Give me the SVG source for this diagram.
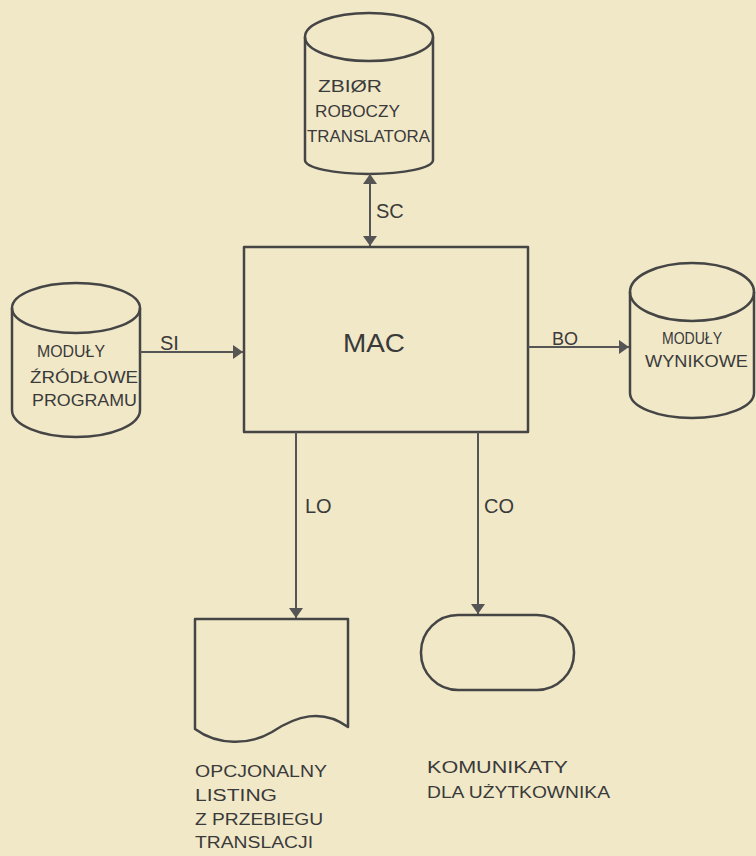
<svg xmlns="http://www.w3.org/2000/svg" width="756" height="856" viewBox="0 0 756 856">
<defs>
<style>
.s{fill:none;stroke:#454545;stroke-width:2.5;stroke-linejoin:round}
.c{fill:none;stroke:#555;stroke-width:2}
.t{font-family:"Liberation Sans","DejaVu Sans",sans-serif;fill:#3a3a3a}
.n{font-size:16px}
.l{font-size:20px}
.b{font-size:16px}
</style>
<marker id="ah" viewBox="0 0 10 20" refX="10" refY="10" markerWidth="10" markerHeight="20" markerUnits="userSpaceOnUse" orient="auto-start-reverse">
<path d="M0,3 L10,10 L0,17 Z" fill="#555"/>
</marker>
</defs>
<rect width="756" height="856" fill="#f1e8c8"/>

<g id="zbior">
<path class="s" d="M305,37 V160 A64,14 0 0 0 433,160 V37"/>
<ellipse class="s" cx="369" cy="37" rx="64" ry="24"/>
<text class="t" x="318" y="92" font-size="17" textLength="64" lengthAdjust="spacingAndGlyphs">ZBIØR</text>
<text class="t" x="315" y="117" font-size="17" textLength="85" lengthAdjust="spacingAndGlyphs">ROBOCZY</text>
<text class="t" x="307" y="142" font-size="16" textLength="123" lengthAdjust="spacingAndGlyphs">TRANSLATORA</text>
</g>

<g id="mac">
<rect class="s" x="244" y="247" width="284" height="185"/>
<text class="t" x="343" y="352" font-size="25" textLength="62" lengthAdjust="spacingAndGlyphs">MAC</text>
</g>

<g id="zrodlowe">
<path class="s" d="M12,308 V410 A64,27 0 0 0 140,410 V308"/>
<ellipse class="s" cx="76" cy="308" rx="64" ry="25"/>
<text class="t n" x="37" y="357" textLength="68" lengthAdjust="spacingAndGlyphs">MODUŁY</text>
<text class="t n" x="30" y="383" textLength="108" lengthAdjust="spacingAndGlyphs">ŹRÓDŁOWE</text>
<text class="t n" x="32" y="406" textLength="105" lengthAdjust="spacingAndGlyphs">PROGRAMU</text>
</g>

<g id="wynikowe">
<path class="s" d="M630,292 V393 A62,25 0 0 0 754,393 V292"/>
<ellipse class="s" cx="692" cy="292" rx="62" ry="29"/>
<text class="t n" x="662" y="344" textLength="60" lengthAdjust="spacingAndGlyphs">MODUŁY</text>
<text class="t n" x="645" y="367" textLength="103" lengthAdjust="spacingAndGlyphs">WYNIKOWE</text>
</g>

<g id="listing">
<path class="s" d="M195,619 H348 V727 C322,708 296,716 272,732 C250,745 218,746 195,729 Z"/>
<text class="t b" x="195" y="777" textLength="132" lengthAdjust="spacingAndGlyphs">OPCJONALNY</text>
<text class="t b" x="195" y="801" textLength="82" lengthAdjust="spacingAndGlyphs">LISTING</text>
<text class="t b" x="195" y="825" textLength="128" lengthAdjust="spacingAndGlyphs">Z PRZEBIEGU</text>
<text class="t b" x="195" y="848" textLength="118" lengthAdjust="spacingAndGlyphs">TRANSLACJI</text>
</g>

<g id="komunikaty">
<rect class="s" x="421" y="615" width="153" height="75" rx="37" ry="37"/>
<text class="t b" x="427" y="773" textLength="141" lengthAdjust="spacingAndGlyphs">KOMUNIKATY</text>
<text class="t b" x="427" y="798" textLength="183" lengthAdjust="spacingAndGlyphs">DLA UŻYTKOWNIKA</text>
</g>

<g id="connectors">
<line class="c" x1="370" y1="174" x2="370" y2="246" marker-start="url(#ah)" marker-end="url(#ah)"/>
<text class="t l" x="376" y="218">SC</text>
<line class="c" x1="140" y1="352" x2="243" y2="352" marker-end="url(#ah)"/>
<text class="t l" x="160" y="350">SI</text>
<line class="c" x1="528" y1="347" x2="629" y2="347" marker-end="url(#ah)"/>
<text class="t" x="552" y="345" font-size="18">BO</text>
<line class="c" x1="296" y1="432" x2="296" y2="618" marker-end="url(#ah)"/>
<text class="t l" x="305" y="513">LO</text>
<line class="c" x1="478" y1="432" x2="478" y2="614" marker-end="url(#ah)"/>
<text class="t l" x="484" y="513">CO</text>
</g>
</svg>
